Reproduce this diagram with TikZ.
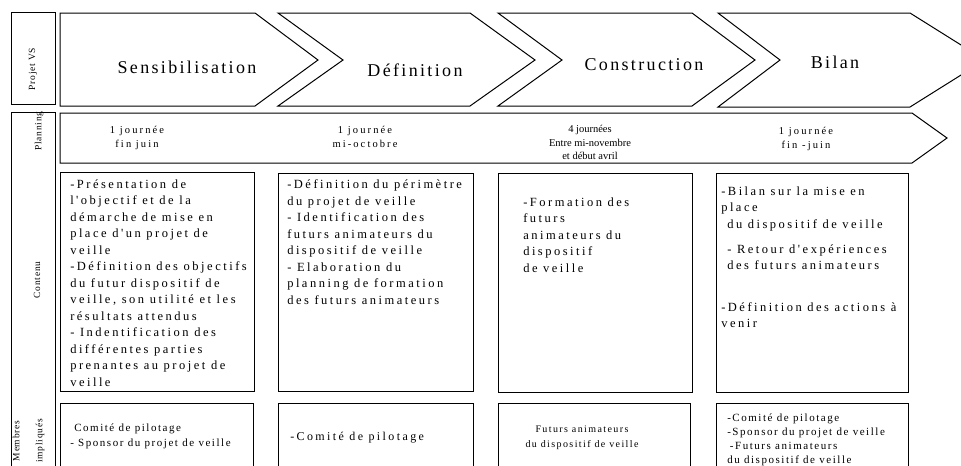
\documentclass[tikz,border=0pt]{standalone}
\usepackage{fontspec}
\setmainfont{Liberation Serif}
\newfontfamily\ttlfont{Liberation Serif}[LetterSpace=13]
\newfontfamily\bdyfont{Liberation Serif}[LetterSpace=20]
\newfontfamily\mbrfont{Liberation Serif}[LetterSpace=14]
\newfontfamily\lblfont{Liberation Serif}[LetterSpace=8]
\newfontfamily\plnfont{Liberation Serif}
\begin{document}
\begin{tikzpicture}[x=0.75pt,y=-0.75pt,
  outl/.style={draw=black,line width=0.75pt,line join=miter},
  ttl/.style={inner sep=0pt,font=\ttlfont\fontsize{13.5pt}{16pt}\selectfont},
  cont/.style={inner sep=0pt,anchor=north west,align=left,font=\bdyfont\fontsize{9.375pt}{12.375pt}\selectfont},
  plan/.style={inner sep=0pt,anchor=north,align=center,font=\bdyfont\fontsize{7.875pt}{10.125pt}\selectfont},
  mbr/.style={inner sep=0pt,anchor=north west,align=left,font=\mbrfont\fontsize{8.25pt}{11.25pt}\selectfont},
  lbl/.style={inner sep=0pt,rotate=90,font=\lblfont\fontsize{7.1pt}{8.5pt}\selectfont},
]
\useasboundingbox (0,0) rectangle (961,465);
\clip (0,0) rectangle (961,465);
% left column
\draw[outl] (11,12) rectangle (55,104);
\draw[outl] (11,112) rectangle (55,475);
% phase chevrons
\draw[outl] (60,13) -- (255,13) -- (318,60) -- (255,106) -- (60,106) -- cycle;
\draw[outl] (278,13) -- (470,13) -- (535,60) -- (470,106) -- (278,106) -- (343,60) -- cycle;
\draw[outl] (498,13) -- (692,13) -- (755,60) -- (692,106) -- (498,106) -- (562,60) -- cycle;
\draw[outl] (718,13) -- (910,13) -- (985,60) -- (910,107) -- (718,107) -- (780,60) -- cycle;
% planning arrow
\draw[outl] (60,113) -- (912,113) -- (947,138) -- (912,163) -- (60,163) -- cycle;
% contenu boxes
\draw[outl] (60,172) rectangle (254,391);
\draw[outl] (278,173) rectangle (473,391);
\draw[outl] (498,173) rectangle (692,392);
\draw[outl] (716,173) rectangle (908,392);
% membres boxes
\draw[outl] (60,403) rectangle (253,475);
\draw[outl] (278,403) rectangle (473,475);
\draw[outl] (498,403) rectangle (690,475);
\draw[outl] (716,403) rectangle (908,475);
% row labels
\node[lbl] (lprojet) at (33,69) {Projet VS};
\node[lbl] (lplan) at (39,131) {Planning};
\node[lbl] (lcont) at (37,280) {Contenu};
\node[lbl,align=center,font=\lblfont\fontsize{7.1pt}{17.25pt}\selectfont] (lmembres) at (28.5,441) {Membres\\impliqués};
% phase titles
\node[ttl] (tsens) at (187,67) {Sensibilisation};
\node[ttl] (tdef) at (415,70) {Définition};
\node[ttl] (tcons) at (644,65) {Construction};
\node[ttl] (tbil) at (835,62) {Bilan};
% planning texts
\node[plan] (p1) at (137,126) {1 journée\\fin juin};
\node[plan] (p2) at (365,126) {1 journée\\mi-octobre};
\node[plan,font=\plnfont\fontsize{7.875pt}{10.125pt}\selectfont] (p3) at (590,125) {4 journées\\Entre mi-novembre\\et début avril};
\node[plan] (p4) at (806,127) {1 journée\\fin -juin};
% contenu texts
\node[cont] (c1) at (70,179.5) {-Présentation de\\l'objectif et de la\\démarche de mise en\\place d'un projet de\\veille\\-Définition des objectifs\\du futur dispositif de\\veille, son utilité et les\\résultats attendus\\- Indentification des\\différentes parties\\prenantes au projet de\\veille};
\node[cont] (c2) at (287,179.5) {-Définition du périmètre\\du projet de veille\\- Identification des\\futurs animateurs du\\dispositif de veille\\- Elaboration du\\planning de formation\\des futurs animateurs};
\node[cont] (c3) at (523,197.5) {-Formation des\\futurs\\animateurs du\\dispositif\\de veille};
\node[cont] (c4) at (721,186.5) {-Bilan sur la mise en\\place\\\hspace*{4.5pt}du dispositif de veille\\[6.4pt]\hspace*{4.5pt}- Retour d'expériences\\\hspace*{4.5pt}des futurs animateurs\\[18.4pt]-Définition des actions à\\venir};
% membres texts
\node[mbr] (m1) at (70,424) {\hspace*{3pt}Comité de pilotage\\- Sponsor du projet de veille};
\node[inner sep=0pt,anchor=west,font=\bdyfont\fontsize{9pt}{11pt}\selectfont] (m2) at (290,438) {-Comité de pilotage};
\node[inner sep=0pt,anchor=north,align=center,font=\mbrfont\fontsize{7.5pt}{11.25pt}\selectfont] (m3) at (582,425.5) {Futurs animateurs\\du dispositif de veille};
\node[mbr,font=\mbrfont\fontsize{8.25pt}{10.5pt}\selectfont] (m4) at (727,414) {-Comité de pilotage\\-Sponsor du projet de veille\\\hspace*{2pt}-Futurs animateurs\\du dispositif de veille};
\end{tikzpicture}
\end{document}
